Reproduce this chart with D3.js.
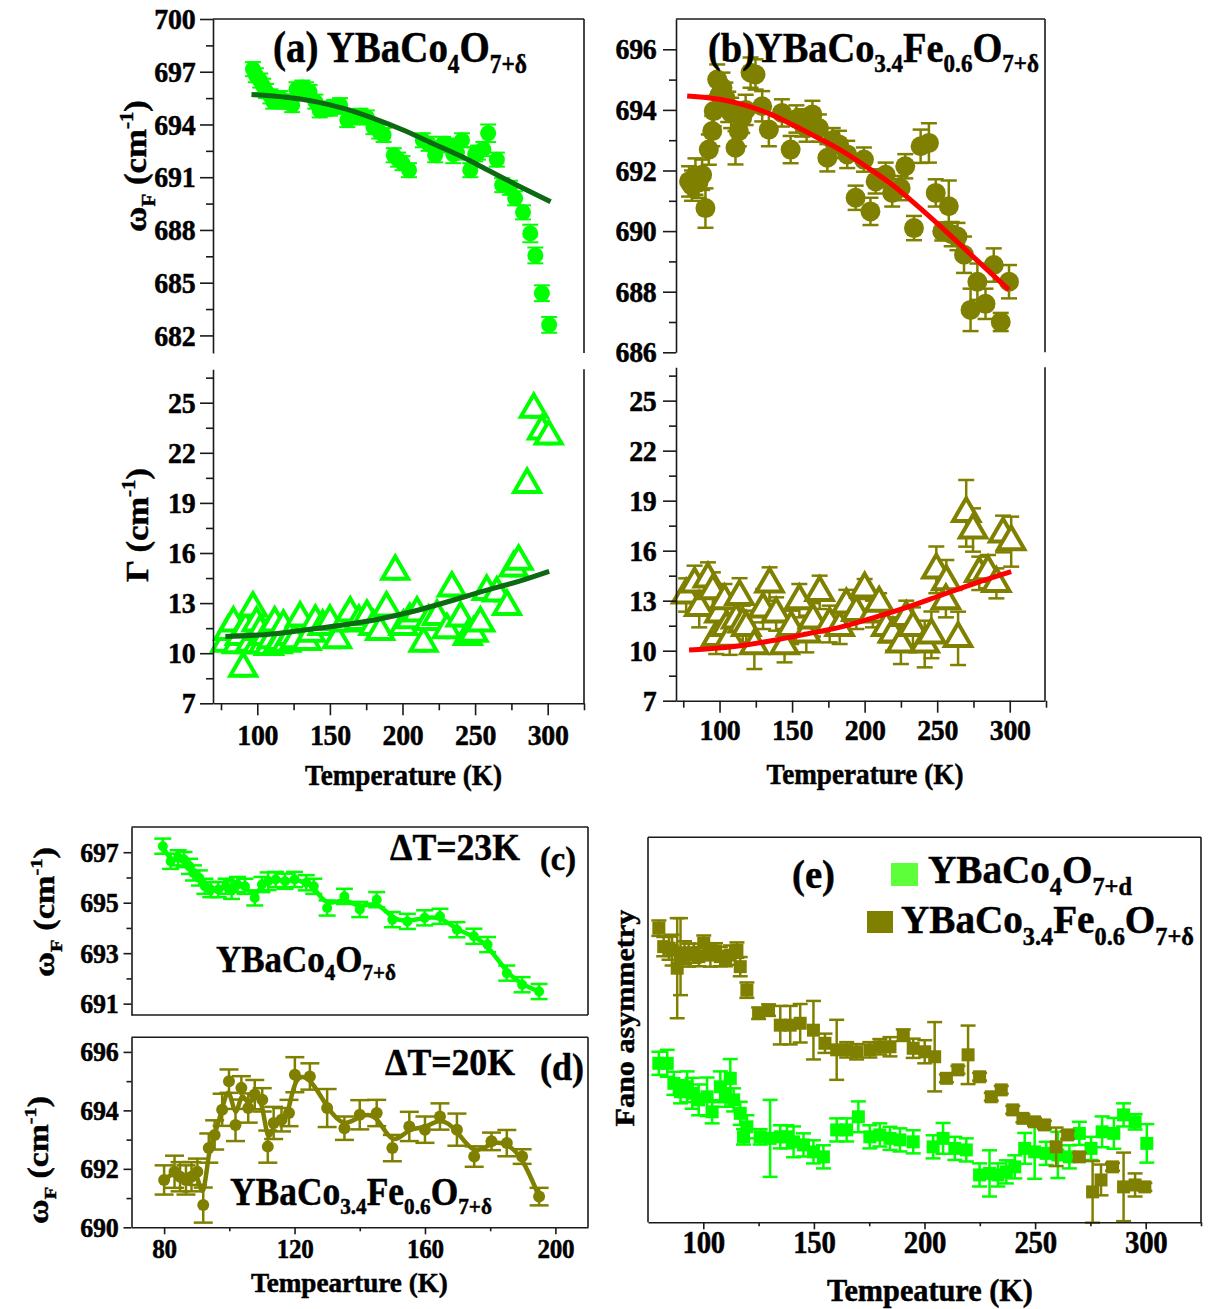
<!DOCTYPE html>
<html><head><meta charset="utf-8">
<script src="https://cdn.jsdelivr.net/npm/d3@7"></script>
<style>body{margin:0;background:#fff}</style>
</head><body>
<svg id="c" width="1209" height="1309" xmlns="http://www.w3.org/2000/svg"></svg>
<script>
// ---------------- DATA ----------------
// (a) YBaCo4O7+δ : phonon frequency [T, omega, err]
const omegaA = [[97,697.15,.4],[99,696.8,.4],[102,696.5,.4],[104,696.2,.4],[106,695.9,.4],[109,695.6,.4],[111,695.3,.4],[113.5,695.5,.4],[116,695.5,.4],[118.5,695.3,.4],[121,695.3,.4],[124,695.1,.4],[127,696.0,.4],[129,695.9,.4],[131,696.1,.4],[133.5,696.0,.4],[136,695.85,.4],[140,695.3,.4],[143,694.8,.4],[147,694.9,.4],[150,694.9,.4],[153,695.0,.4],[157,695.1,.4],[162,694.25,.4],[166,694.4,.4],[171,694.5,.4],[175.5,694.4,.4],[180,693.85,.4],[184,693.6,.4],[187,693.4,.4],[194,692.25,.4],[197,692.0,.4],[200,691.8,.4],[204.5,691.4,.4],[214,693.1,.4],[218,692.9,.4],[222.5,692.25,.4],[228,692.9,.4],[232,692.8,.4],[235,692.3,.5],[237.5,692.4,.4],[241,693.1,.4],[246.7,691.4,.4],[250,692.3,.4],[252,692.4,.4],[255.7,692.6,.4],[259,693.5,.5],[265,692.0,.4],[268.6,690.55,.4],[274,690.4,.4],[277.6,689.8,.4],[283,689.0,.4],[288,687.8,.5],[291.5,686.55,.45],[296,684.4,.45],[301,682.6,.45]];
const fitOmegaA = [[96,695.7],[120,695.55],[140,695.3],[160,694.9],[180,694.35],[200,693.7],[220,692.95],[240,692.2],[260,691.35],[280,690.5],[302,689.6]];
// (a) linewidth [T, gamma, err]
const gammaA = [[78,10.6,.5],[80,11.3,.5],[83.5,11.8,.5],[86,10.5,.5],[88,11.0,.5],[90.3,9.1,.5],[92,11.5,.5],[95,10.6,.5],[97,12.7,.5],[99.5,11.8,.5],[100,10.5,.5],[102,11.3,.5],[104,10.5,.5],[106,11.0,.5],[108,10.4,.5],[110,10.8,.5],[112,11.8,.5],[114,10.5,.5],[116,10.7,.5],[118,11.6,.5],[120,10.6,.5],[123,11.0,.5],[126,10.8,.5],[129.5,12.1,.5],[134,10.7,.5],[137,11.2,.5],[140,11.9,.5],[145,11.6,.5],[150,11.9,.5],[155,10.8,.5],[160,11.8,.5],[164,12.4,.5],[170,11.9,.5],[175.5,12.2,.5],[180,11.6,.5],[184.6,11.3,.5],[189,12.7,.5],[195,14.9,.5],[200.6,11.6,.5],[205,12.0,.5],[210,12.4,.5],[214.5,10.6,.5],[218,11.9,.5],[223.7,12.2,.5],[230.6,11.4,.5],[234,13.9,.5],[240,12.1,.5],[245,11.0,.5],[249,11.2,.5],[253.6,11.8,.5],[258,13.7,.5],[265,13.6,.5],[272,12.8,.5],[276.5,15.1,.5],[280,15.5,.5],[285.8,20.1,.5],[290.4,24.6,.5],[296,23.3,.5],[300.7,23.0,.5]];
const fitGammaA = [[78,11.0],[110,11.15],[138,11.45],[160,11.7],[184,12.05],[207,12.5],[230,13.05],[255,13.7],[280,14.3],[301,14.9]];
// (b) YBaCo3.4Fe0.6O7+δ
const omegaB = [[79,691.64,.5],[81,691.5,.5],[83.4,691.8,.6],[85.5,691.6,.5],[88,691.86,.5],[90.3,690.76,.65],[92.6,692.69,.5],[95,693.3,.5],[96,693.96,.5],[98.4,695.0,.5],[100,694.5,.5],[102,694.73,.5],[104,694.4,.5],[106,694.1,.5],[108,693.9,.5],[111,692.75,.55],[113.3,693.3,.5],[115.6,693.74,.5],[118,694.0,.5],[121.4,695.23,.5],[124.8,695.17,.5],[129.4,694.12,.5],[134,693.35,.55],[143,693.9,.45],[149,692.69,.45],[153,693.7,.45],[157,693.57,.45],[160,693.4,.45],[164,693.85,.45],[168.5,693.4,.45],[174.3,692.42,.45],[178,693.0,.4],[182.3,692.86,.45],[188,692.53,.45],[193.8,691.1,.4],[199.5,692.36,.4],[204,690.65,.45],[207.6,691.64,.4],[214.5,691.86,.4],[219,691.26,.45],[224.8,691.42,.4],[228,692.14,.4],[234,690.1,.4],[238.6,692.8,.55],[244.3,692.91,.65],[249,691.26,.45],[253.5,689.99,.3],[258,690.82,.85],[260,689.9,.4],[264,689.82,.45],[268.5,689.22,.6],[273,687.4,.7],[277.7,688.33,.6],[283.3,687.6,.5],[289,688.88,.55],[293.8,687.0,.3],[299.5,688.33,.55]];
const fitOmegaB = [[77.7,694.46],[100,694.35],[115.6,694.18],[133,693.9],[150,693.52],[167,693.1],[184.6,692.64],[202,692.1],[219,691.53],[236,690.85],[253.6,690.1],[276,689.1],[299.5,688.06]];
const gammaB = [[77,13.34,1.0],[82.8,14.0,1.1],[86,12.6,1.2],[92,14.3,1.0],[95.4,13.6,1.1],[97.7,10.8,1.0],[100,12.2,1.1],[103.4,13.0,1.0],[104.6,11.4,1.2],[107,10.75,1.0],[111.5,11.85,1.2],[113.8,13.25,1.1],[116,11.6,1.1],[118.4,11.4,1.0],[124,10.3,1.4],[130,12.5,1.2],[134.5,14.0,1.0],[139,12.2,1.0],[144.8,10.3,1.0],[149.4,11.4,1.0],[155,13.0,1.0],[159.8,11.0,1.1],[164.4,11.85,1.0],[169,13.5,1.0],[175.9,11.6,1.1],[182.8,11.4,1.0],[187.4,12.75,0.9],[194.3,12.3,1.0],[200,13.7,0.6],[205.7,12.2,0.8],[210,12.85,0.6],[214.9,11.4,0.9],[219.5,11.0,1.0],[225,10.4,1.2],[228.7,12.0,1.0],[233.3,11.4,1.2],[241.4,10.4,1.4],[246,10.95,1.4],[249.4,14.85,1.4],[256.3,14.14,1.3],[256,13.0,1.0],[264.4,10.74,1.6],[270,18.24,2.0],[274.7,17.24,1.3],[279,14.64,1.0],[285,14.74,1.0],[290.8,14.04,0.9],[295.4,17.0,1.1],[301,16.54,1.5]];
const fitGammaB = [[79,10.04],[110,10.25],[138.6,10.64],[160,11.0],[184.6,11.44],[207,12.0],[230.6,12.64],[255,13.4],[278,14.1],[301,14.74]];
// (c) YBaCo4O7+δ, ΔT = 23 K
const omegaC = [[79.6,697.24,.3],[82,696.64,.3],[84.3,696.78,.3],[86.1,696.71,.3],[87.8,696.44,.3],[89,696.18,.3],[90.8,695.98,.3],[92.5,695.65,.3],[94.3,695.52,.3],[96.6,695.52,.3],[99,695.65,.3],[100.7,695.5,.35],[102.5,695.72,.3],[104.8,695.65,.3],[107.8,695.19,.3],[110,695.72,.3],[111.9,695.85,.35],[114.2,695.92,.3],[117.1,695.85,.3],[120,695.92,.3],[123.6,695.79,.3],[125.9,695.65,.3],[130,694.79,.3],[135.3,695.25,.3],[140,694.73,.3],[145.2,695.12,.3],[150,694.33,.3],[154.6,694.26,.3],[159.9,694.4,.3],[164.6,694.46,.3],[169.8,693.93,.3],[175,693.67,.3],[179.2,693.34,.3],[185.1,692.21,.3],[189.8,691.75,.3],[195,691.48,.3]];
// (d) YBaCo3.4Fe0.6O7+δ, ΔT = 20 K
const omegaD = [[80,691.62,.5],[83.2,691.9,.55],[84.9,691.73,.5],[86.7,691.62,.5],[88.4,691.73,.5],[90.2,691.9,.45],[92,690.76,.6],[93.7,692.71,.5],[95.5,693.16,.5],[97.8,694.02,.55],[99.9,695.0,.4],[101.9,693.5,.55],[103.7,694.77,.4],[105.8,694.08,.5],[107.8,694.54,.5],[110.1,694.36,.4],[111.8,692.76,.55],[113.6,693.57,.55],[116,693.68,.4],[118.3,693.91,.45],[120.1,695.22,.6],[124.7,695.16,.45],[130,694.08,.65],[135.3,693.39,.4],[140,693.85,.5],[145.2,693.91,.45],[150,692.71,.45],[155.2,693.45,.5],[160,693.34,.45],[164.6,693.79,.45],[169.8,693.34,.55],[175.1,692.42,.35],[180.4,692.94,.3],[185.1,692.88,.45],[189.8,692.42,.25],[195,691.05,.3]];
// (e) Fano asymmetry (arbitrary units) [T, value, err]
const fanoA = [[79.9,41.3,3],[83.7,41.3,3.5],[86.7,36.1,3],[89.7,33.9,3],[92.7,35.2,4],[95,33.5,4],[97.9,31.8,4],[101.7,32.6,5],[104,28.7,3],[107.7,35.2,4],[110,33,3],[112.2,37.4,5],[113.7,31.8,3],[116.7,28.3,3],[118.2,22.2,2],[119.7,24.8,3],[125.7,22.2,2],[130.2,21.8,10],[134.8,22.2,3],[137.8,22.2,3],[140.8,20.9,4],[145.3,20.1,3],[149.8,18.3,3],[154.3,17.0,3],[160.3,24.0,3],[164.8,24.0,3],[170.1,27.4,4],[175.3,22.2,3],[179.8,22.7,3],[184.4,21.8,3],[188.9,21.4,3],[194.9,20.9,3],[203.9,19.6,3],[208.4,21.8,4],[213.7,19.2,3],[218.9,18.8,3],[224.9,12.3,3],[229.4,12.7,6],[233.2,12.3,3],[237,13.1,3],[240.8,14.4,3],[245.3,19.2,4],[249.8,18.3,7],[255,17.9,3],[260.3,17.5,6],[265.5,17.0,3],[270,23.1,3],[275.3,19.2,3],[280.3,23.5,4],[285.6,23.1,4],[290,27.9,3],[295.2,26.1,2],[300.5,20.5,5]];
const fanoB = [[79.9,76.4,2],[82.1,71.6,2.5],[84.5,71.2,3],[85.9,70.7,4],[88.2,66.0,13],[89.7,69.0,10],[91.5,70.0,3],[93.4,69.4,3],[95.7,69.9,2.5],[98,69.0,2.5],[100.2,72.5,2],[103.2,69.4,3],[105.5,70.5,2],[107.7,69.0,2.5],[110,68.5,2],[112.2,69.4,2.5],[115.2,70.7,2],[116.7,66.4,2.5],[119.7,60.3,2],[125,54.3,1.5],[129.5,55.1,1.5],[134.8,51.2,5],[139.3,51.2,5],[143.8,51.7,5],[149.8,49.9,7.6],[155,46.5,2.5],[160.3,44.8,7.8],[164.8,44.8,2],[169.3,44.3,2],[175.3,44.8,2],[179.8,45.6,2],[184.4,45.6,2.5],[190.4,48.6,1.5],[194.9,45.2,2.5],[200.1,44.3,3],[204.6,43.0,9],[209.9,37.4,1],[215.1,39.6,1],[219.7,43.5,7.6],[224.9,37.8,1],[230.2,32.6,1],[234.7,34.4,1],[239.9,29.2,1],[244.5,27.0,1],[249.7,26.1,1],[254.2,25.3,1],[259.5,19.6,5],[264.7,22.7,1],[270,17.0,1],[276,7.9,8],[279.8,11.0,4],[285,14.4,1],[290,9.2,8.9],[295.2,9.7,3],[299.6,9.2,1]];
// tick values
const ticksT = [100,150,200,250,300], minorT = [75,125,175,225,275,325];
const ticksWA = [682,685,688,691,694,697,700], minorWA = [683.5,686.5,689.5,692.5,695.5,698.5];
const ticksG = [7,10,13,16,19,22,25], minorG = [8.5,11.5,14.5,17.5,20.5,23.5,26.5];
const ticksWB = [686,688,690,692,694,696], minorWB = [687,689,691,693,695];
const ticksWC = [691,693,695,697], minorWC = [692,694,696];
const ticksWD = [690,692,694,696], minorWD = [691,693,695];
const ticksTD = [80,120,160,200], minorTD = [100,140,180];
const ticksTE = [100,150,200,250,300], minorTE = [125,175,225,275,325];

// ---------------- DRAW ----------------
const FONT = "'Liberation Serif','Times New Roman',Times,serif";
const GREEN = '#00ff00', OLIVE = '#808000', DKGREEN = '#0b6a12', RED = '#ff0000';
const AX = '#1a1a1a';
const svg = d3.select('#c');
svg.append('rect').attr('width',1209).attr('height',1309).attr('fill','#fff');

function rich(o){
  const g = svg.append('g');
  const fs = o.fs, sr = o.subScale||0.6, sd = (o.subDy==null?0.28:o.subDy)*fs, su = (o.supDy==null?0.42:o.supDy)*fs;
  const t = g.append('text').attr('font-family',FONT).attr('font-weight','bold').attr('font-size',fs)
    .attr('fill','#000').attr('stroke','#000').attr('stroke-width',0.5);
  let shift = 0;
  o.parts.forEach(([s,k])=>{
    const ts = t.append('tspan').text(s);
    const target = k==='sub'? sd : k==='sup'? -su : 0;
    ts.attr('dy', target-shift); shift = target;
    if(k) ts.attr('font-size', fs*sr);
  });
  const w = t.node().getComputedTextLength();
  const sx = o.width ? o.width/w : (o.sx||0.87);
  const off = o.anchor==='middle'? -w/2 : o.anchor==='end'? -w : 0;
  t.attr('x', off);
  if(o.rotate) g.attr('transform',`translate(${o.x},${o.y}) rotate(-90) scale(${sx},${o.sy||0.9})`);
  else g.attr('transform',`translate(${o.x},${o.y}) scale(${sx},1)`);
  return g;
}
function styleAxis(g, fs){
  g.attr('font-family',null).attr('font-size',null);
  g.select('.domain').attr('stroke',AX).attr('stroke-width',1.6);
  g.selectAll('.tick line').attr('stroke',AX).attr('stroke-width',1.6);
  g.selectAll('.tick text').attr('font-family',FONT).attr('font-weight','bold').attr('font-size',fs).attr('fill','#000')
    .attr('stroke','#000').attr('stroke-width',0.5)
    .attr('transform','scale(0.93,1)').attr('letter-spacing','-0.3');
}
function leftAxis(x, sc, maj, min, fs, L, l, pad){
  const g = svg.append('g').attr('transform',`translate(${x},0)`)
    .call(d3.axisLeft(sc).tickValues(maj).tickSize(L).tickSizeOuter(0).tickPadding(pad).tickFormat(d3.format('d')));
  styleAxis(g, fs);
  if(min){ const g2 = svg.append('g').attr('transform',`translate(${x},0)`)
    .call(d3.axisLeft(sc).tickValues(min).tickSize(l).tickSizeOuter(0).tickFormat(''));
    styleAxis(g2, fs); g2.select('.domain').remove(); }
}
function bottomAxis(y, sc, maj, min, fs, L, l, pad){
  const g = svg.append('g').attr('transform',`translate(0,${y})`)
    .call(d3.axisBottom(sc).tickValues(maj).tickSize(L).tickSizeOuter(0).tickPadding(pad).tickFormat(d3.format('d')));
  styleAxis(g, fs);
  if(min){ const g2 = svg.append('g').attr('transform',`translate(0,${y})`)
    .call(d3.axisBottom(sc).tickValues(min).tickSize(l).tickSizeOuter(0).tickFormat(''));
    styleAxis(g2, fs); g2.select('.domain').remove(); }
}
function line(x1,y1,x2,y2){ svg.append('line').attr('x1',x1).attr('y1',y1).attr('x2',x2).attr('y2',y2).attr('stroke',AX).attr('stroke-width',1.6); }
function errBars(data, xs, ys, color, cap, sw){
  const g = svg.append('g').attr('stroke',color).attr('stroke-width',sw).attr('fill','none');
  data.forEach(d=>{
    const x = xs(d[0]), y1 = ys(d[1]-d[2]), y2 = ys(d[1]+d[2]);
    g.append('line').attr('x1',x).attr('x2',x).attr('y1',y1).attr('y2',y2);
    g.append('line').attr('x1',x-cap/2).attr('x2',x+cap/2).attr('y1',y1).attr('y2',y1);
    g.append('line').attr('x1',x-cap/2).attr('x2',x+cap/2).attr('y1',y2).attr('y2',y2);
  });
}
function circles(data, xs, ys, color, r){
  svg.append('g').selectAll('circle').data(data).join('circle')
    .attr('cx',d=>xs(d[0])).attr('cy',d=>ys(d[1])).attr('r',r).attr('fill',color);
}
function triangles(data, xs, ys, color, size, sw){
  const sym = d3.symbol(d3.symbolTriangle, size);
  svg.append('g').selectAll('path').data(data).join('path')
    .attr('d',sym).attr('transform',d=>`translate(${xs(d[0])},${ys(d[1])})`)
    .attr('fill','#fff').attr('stroke',color).attr('stroke-width',sw).attr('stroke-linejoin','miter');
}
function squares(data, xs, ys, color, s){
  svg.append('g').selectAll('rect').data(data).join('rect')
    .attr('x',d=>xs(d[0])-s/2).attr('y',d=>ys(d[1])-s/2).attr('width',s).attr('height',s).attr('fill',color);
}
function curve(data, xs, ys, color, w, c){
  svg.append('path').datum(data).attr('fill','none').attr('stroke',color).attr('stroke-width',w)
    .attr('stroke-linecap','butt').attr('stroke-linejoin','round')
    .attr('d', d3.line().x(d=>xs(d[0])).y(d=>ys(d[1])).curve(c||d3.curveMonotoneX));
}

// ===== Panel (a) =====
const xA = d3.scaleLinear().domain([69.5,325]).range([213,584]);
const yAw = d3.scaleLinear().domain([681,700]).range([353,19]);
const yAg = d3.scaleLinear().domain([7,27]).range([703.3,369.3]);
errBars(omegaA, xA, yAw, GREEN, 16, 2);
circles(omegaA, xA, yAw, GREEN, 8);
curve(fitOmegaA, xA, yAw, DKGREEN, 5);
leftAxis(213, yAw, ticksWA, minorWA, 30, 13, 7, 6);
line(213,19,584,19); line(584,19,584,353);
errBars(gammaA, xA, yAg, GREEN, 8, 2);
triangles(gammaA, xA, yAg, GREEN, 290, 4);
curve(fitGammaA, xA, yAg, DKGREEN, 5);
leftAxis(213, yAg, ticksG, minorG, 30, 13, 7, 6);
bottomAxis(703.3, xA, ticksT, minorT, 30, 12, 7, 8);
line(584,369.3,584,703.3);

// ===== Panel (b) =====
const xB = d3.scaleLinear().domain([70,324.3]).range([676,1045]);
const yBw = d3.scaleLinear().domain([686,697]).range([352.3,19]);
const yBg = d3.scaleLinear().domain([7,27]).range([700.7,367.3]);
errBars(omegaB, xB, yBw, OLIVE, 16, 2.5);
circles(omegaB, xB, yBw, OLIVE, 10);
curve(fitOmegaB, xB, yBw, RED, 5);
leftAxis(676, yBw, ticksWB, minorWB, 30, 13, 7, 8);
line(676,19,1045,19); line(1045,19,1045,352.3);
errBars(gammaB, xB, yBg, OLIVE, 16, 2.5);
triangles(gammaB, xB, yBg, OLIVE, 300, 4);
curve(fitGammaB, xB, yBg, RED, 5);
leftAxis(676, yBg, ticksG, minorG, 30, 13, 7, 8);
bottomAxis(700.7, xB, ticksT, minorT, 30, 12, 7, 6);
line(1045,367.3,1045,700.7);

// ===== Panel (c) =====
const xC = d3.scaleLinear().domain([70,210]).range([131.5,588]);
const yC = d3.scaleLinear().domain([690.55,698]).range([1015,827]);
curve(omegaC, xC, yC, GREEN, 4.5, d3.curveBasis);
errBars(omegaC, xC, yC, GREEN, 17, 2.5);
circles(omegaC, xC, yC, GREEN, 5);
leftAxis(131.5, yC, ticksWC, minorWC, 28, 8, 5, 6);
line(131.5,827,588,827); line(588,827,588,1015); line(131.5,1015,588,1015);

// ===== Panel (d) =====
const yD = d3.scaleLinear().domain([690,696.5]).range([1227.3,1037.3]);
curve(omegaD, xC, yD, OLIVE, 4.5, d3.curveBasis);
errBars(omegaD, xC, yD, OLIVE, 19, 2.5);
circles(omegaD, xC, yD, OLIVE, 6);
leftAxis(131.5, yD, ticksWD, minorWD, 28, 8, 5, 6);
bottomAxis(1227.3, xC, ticksTD, minorTD, 27, 7, 4, 5);
line(131.5,1037.3,588,1037.3); line(588,1037.3,588,1227.3);

// ===== Panel (e) =====
const xE = d3.scaleLinear().domain([75,325]).range([648,1201]);
const yE = d3.scaleLinear().domain([0,100]).range([1222.3,837.3]);
errBars(fanoA, xE, yE, GREEN, 15, 2.5);
squares(fanoA, xE, yE, GREEN, 13);
errBars(fanoB, xE, yE, OLIVE, 15, 2.5);
squares(fanoB, xE, yE, OLIVE, 13);
bottomAxis(1222.3, xE, ticksTE, minorTE, 31, 7, 4, 2);
line(648,837.3,648,1222.3); line(648,837.3,1201,837.3); line(1201,837.3,1201,1222.3);
svg.append('rect').attr('x',891).attr('y',863).attr('width',27).attr('height',23).attr('fill','#5cff3a');
svg.append('rect').attr('x',867).attr('y',911).attr('width',26).attr('height',22).attr('fill',OLIVE);

// ---------------- TEXT ----------------
const wLabel = [["ω",""],["F","sub"],[" (cm",""],["-1","sup"],[")",""]];
rich({x:273,y:62,fs:44,width:254,subScale:0.6,subDy:0.26,parts:[["(a) YBaCo",""],["4","sub"],["O",""],["7+δ","sub"]]});
rich({x:708,y:62,fs:43,width:331,subScale:0.6,subDy:0.24,parts:[["(b)YBaCo",""],["3.4","sub"],["Fe",""],["0.6","sub"],["O",""],["7+δ","sub"]]});
rich({x:146,y:166,fs:34,rotate:true,width:132,anchor:'middle',subScale:0.6,parts:wLabel});
rich({x:148,y:525,fs:34,rotate:true,width:114,anchor:'middle',subScale:0.6,parts:[["Γ (cm",""],["-1","sup"],[")",""]]});
rich({x:403.5,y:785,fs:29,width:197,anchor:'middle',parts:[["Temperature (K)",""]]});
rich({x:865,y:784,fs:29,width:197,anchor:'middle',parts:[["Temperature (K)",""]]});
rich({x:390,y:860,fs:38,width:130,parts:[["ΔT=23K",""]]});
rich({x:540,y:870,fs:34,width:36,parts:[["(c)",""]]});
rich({x:216,y:972,fs:38,width:180,subScale:0.6,subDy:0.22,parts:[["YBaCo",""],["4","sub"],["O",""],["7+δ","sub"]]});
rich({x:54,y:912,fs:32,rotate:true,width:130,anchor:'middle',subScale:0.6,parts:wLabel});
rich({x:385,y:1075,fs:38,width:130,parts:[["ΔT=20K",""]]});
rich({x:540,y:1080,fs:38,width:44,parts:[["(d)",""]]});
rich({x:230,y:1205,fs:40,width:262,subScale:0.6,subDy:0.22,parts:[["YBaCo",""],["3.4","sub"],["Fe",""],["0.6","sub"],["O",""],["7+δ","sub"]]});
rich({x:48,y:1160,fs:32,rotate:true,width:128,anchor:'middle',subScale:0.6,parts:wLabel});
rich({x:349.5,y:1292,fs:28,width:197,anchor:'middle',parts:[["Tempearture (K)",""]]});
rich({x:634,y:1018,fs:30,rotate:true,width:217,anchor:'middle',parts:[["Fano asymmetry",""]]});
rich({x:930,y:1301,fs:31,width:206,anchor:'middle',parts:[["Tempeature (K)",""]]});
rich({x:792,y:888,fs:40,width:43,parts:[["(e)",""]]});
rich({x:928,y:883,fs:40,width:204,subScale:0.62,subDy:0.3,parts:[["YBaCo",""],["4","sub"],["O",""],["7+d","sub"]]});
rich({x:901,y:933,fs:40,width:293,subScale:0.62,subDy:0.3,parts:[["YBaCo",""],["3.4","sub"],["Fe",""],["0.6","sub"],["O",""],["7+δ","sub"]]});
</script>
</body></html>
